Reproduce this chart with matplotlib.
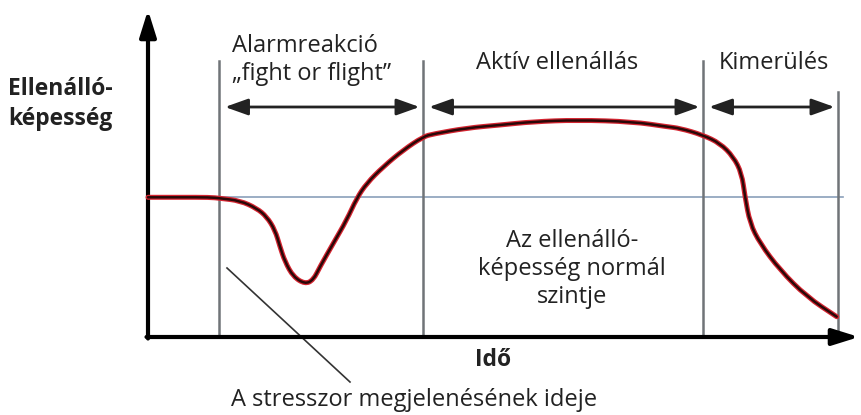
import matplotlib.pyplot as plt
from matplotlib.path import Path
from matplotlib.patches import PathPatch

plt.rcParams['font.family'] = ['Open Sans', 'DejaVu Sans']

# resistance curve (time, resistance level)
time = [0, 3.2, 6.2, 7.2, 9.2, 10.87, 11.87, 12.7, 13.2, 13.7, 14.53, 15.7, 16.53, 17.2,
        18.53, 19.87, 20.87, 21.87, 23.53, 25.53, 27.53, 28.5, 31.9, 35.2, 38.5, 42.9,
        48.5, 51.9, 53.2, 55.47, 57.2, 58.53, 59.37, 59.7, 60.2, 61.2, 63.2, 65.87, 68.87]
level = [13.97, 13.97, 13.97, 13.87, 13.63, 12.87, 12.03, 10.7, 9.03, 7.53, 6.03, 5.3, 5.7,
         7.03, 9.37, 11.7, 13.87, 15.37, 17.03, 18.7, 20.03, 20.3, 20.9, 21.2, 21.53, 21.7,
         21.53, 21.03, 20.87, 20.2, 19.37, 18.03, 16.37, 14.03, 11.37, 9.37, 6.7, 4.03, 2.03]

normal_level = 13.95
phase_bounds = [7.1, 27.5, 55.5, 69.0]
phase_names = ['Alarmreakció\n„fight or flight”', 'Aktív ellenállás', 'Kimerülés']


def smooth_path(xs, ys):
    # quadratic bezier through midpoints, control points are the read points
    pts = list(zip(xs, ys))
    verts = [pts[0]]
    codes = [Path.MOVETO]
    mid = ((pts[0][0] + pts[1][0]) / 2, (pts[0][1] + pts[1][1]) / 2)
    verts.append(mid)
    codes.append(Path.LINETO)
    for i in range(1, len(pts) - 1):
        mid = ((pts[i][0] + pts[i + 1][0]) / 2, (pts[i][1] + pts[i + 1][1]) / 2)
        verts += [pts[i], mid]
        codes += [Path.CURVE3, Path.CURVE3]
    verts.append(pts[-1])
    codes.append(Path.LINETO)
    return Path(verts, codes)


fig = plt.figure(figsize=(8.61, 4.15), dpi=100)
ax = fig.add_axes([0, 0, 1, 1])
ax.set_xlim(-14.8, 71.3)
ax.set_ylim(-7.8, 33.7)
ax.axis('off')

# axes with arrows
ax.annotate('', xy=(0, 32.7), xytext=(0, -0.15),
            arrowprops=dict(arrowstyle='-|>,head_length=1.6,head_width=0.5', lw=3, color='black',
                            shrinkA=0, shrinkB=0))
ax.annotate('', xy=(71.1, 0), xytext=(-0.15, 0),
            arrowprops=dict(arrowstyle='-|>,head_length=1.6,head_width=0.5', lw=3, color='black',
                            shrinkA=0, shrinkB=0))

# normal level
ax.plot([0, 69.5], [normal_level, normal_level], color='#8aa0ba', lw=1.2, zorder=1)

# phase boundaries
tops = [27.6, 27.6, 27.6, 24.5]
for b, top in zip(phase_bounds, tops):
    ax.plot([b, b], [0, top], color='#707478', lw=1.8, zorder=1)

# phase arrows
arrow_y = 23.0
for i in range(3):
    ax.annotate('', xy=(phase_bounds[i + 1] - 0.35, arrow_y), xytext=(phase_bounds[i] + 0.6, arrow_y),
                arrowprops=dict(arrowstyle='<|-|>,head_length=1.4,head_width=0.5', lw=2,
                                color='#222222', shrinkA=0, shrinkB=0))

# curve
curve = smooth_path(time, level)
ax.add_patch(PathPatch(curve, fill=False, edgecolor='#d42430', lw=3.6, capstyle='round',
                       joinstyle='round', zorder=3))
ax.add_patch(PathPatch(curve, fill=False, edgecolor='#2a0808', lw=1.8, capstyle='round',
                       joinstyle='round', zorder=4))

# labels
ax.text(8.4, 27.7, phase_names[0], fontsize=17, ha='left', va='center', color='#222222', linespacing=1.2)
ax.text(40.9, 27.4, phase_names[1], fontsize=17, ha='center', va='center', color='#222222')
ax.text(62.6, 27.4, phase_names[2], fontsize=17, ha='center', va='center', color='#222222')
ax.text(-14.0, 23.3, 'Ellenálló-\nképesség', fontsize=16.5, fontweight='bold', ha='left', va='center',
        color='#222222', linespacing=1.3)
ax.text(42.4, 6.8, 'Az ellenálló-\nképesség normál\nszintje', fontsize=17, ha='center', va='center',
        color='#222222', linespacing=1.2)
ax.text(34.5, -2.3, 'Idő', fontsize=16.5, fontweight='bold', ha='center', va='center', color='#222222')
ax.text(26.6, -6.3, 'A stresszor megjelenésének ideje', fontsize=17, ha='center', va='center',
        color='#222222')
ax.plot([7.9, 20.2], [6.9, -4.5], color='#333333', lw=1.2)

fig.savefig('out.png', dpi=100)
